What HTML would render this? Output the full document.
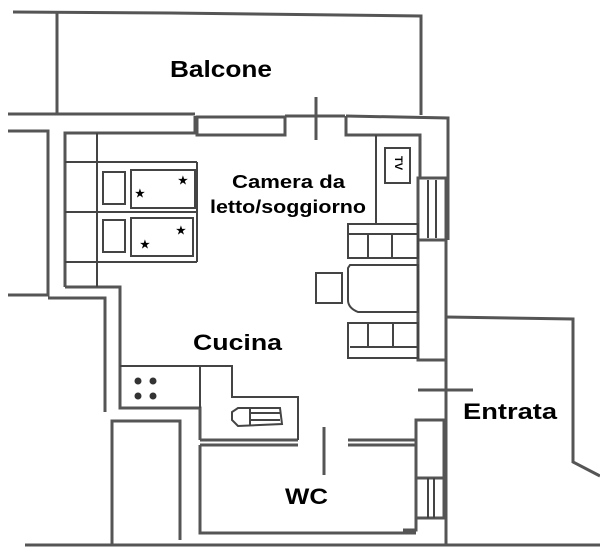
<!DOCTYPE html>
<html><head><meta charset="utf-8"><style>
html,body{margin:0;padding:0;background:#fff;width:600px;height:559px;overflow:hidden}
svg{display:block}
text{font-family:"Liberation Sans",Arial,sans-serif;font-weight:bold;fill:#000}
</style></head><body>
<svg width="600" height="559" viewBox="0 0 600 559" xmlns="http://www.w3.org/2000/svg">
<g fill="none" stroke="#555" stroke-width="3">
<polyline points="13,12 170,13 421,16 421,115"/>
<line x1="57" y1="13" x2="57" y2="113"/>
<line x1="8" y1="114" x2="195" y2="114"/>
<rect x="197" y="117" width="88" height="18"/>
<line x1="285" y1="116" x2="345" y2="116"/>
<line x1="316" y1="97" x2="316" y2="140"/>
<polyline points="346,116 448,118 448,240"/>
<polyline points="346,116 346,135 420,135 420,178 448,178"/>
<polyline points="8,131 48,131 48,295 8,295"/>
<polyline points="48,298 105,298 105,412"/>
<polyline points="65,287 65,133 195,133 195,116"/>
<polyline points="65,287 120,287 120,365"/>
<polyline points="120,365 120,408 200,408 200,440"/>
<polyline points="112,545 112,421 180,421 180,540"/>
<polyline points="446,178 446,545"/>
<rect x="418" y="178" width="28" height="62"/>
<rect x="418" y="240" width="28" height="120"/>
<rect x="416" y="420" width="28" height="58"/>
<rect x="416" y="478" width="28" height="40"/>
<polyline points="416,518 416,530 403,530"/>
<polyline points="446,317 573,319 573,462 600,476"/>
<line x1="418" y1="390" x2="473" y2="390"/>
<line x1="200" y1="440" x2="298" y2="440"/>
<line x1="200" y1="445" x2="298" y2="445"/>
<line x1="348" y1="440" x2="416" y2="440"/>
<line x1="348" y1="445" x2="416" y2="445"/>
<polyline points="200,445 200,533 416,533"/>
<line x1="324" y1="427" x2="324" y2="475"/>
<line x1="25" y1="545" x2="600" y2="545"/>
</g>
<g fill="none" stroke="#444" stroke-width="2">
<line x1="97" y1="133" x2="97" y2="287"/>
<line x1="65" y1="162" x2="197" y2="162"/>
<line x1="65" y1="212" x2="197" y2="212"/>
<line x1="65" y1="262" x2="197" y2="262"/>
<line x1="197" y1="162" x2="197" y2="262"/>
<rect x="103" y="172" width="22" height="32"/>
<rect x="131" y="170" width="64" height="38"/>
<rect x="103" y="220" width="22" height="32"/>
<rect x="131" y="218" width="62" height="38"/>
<polyline points="376,135 376,224"/>
<rect x="385" y="148" width="25" height="35"/>
<rect x="348" y="224" width="70" height="34"/>
<line x1="348" y1="234" x2="418" y2="234"/>
<line x1="368" y1="234" x2="368" y2="258"/>
<line x1="392" y1="234" x2="392" y2="258"/>
<path d="M350,265 L418,265 L418,312 L358,312 Q348,308 348,300 L348,268 Z"/>
<rect x="316" y="273" width="26" height="30"/>
<rect x="348" y="323" width="70" height="35"/>
<line x1="350" y1="347" x2="418" y2="347"/>
<line x1="368" y1="323" x2="368" y2="347"/>
<line x1="393" y1="323" x2="393" y2="347"/>
<polyline points="120,366 232,366 232,397 298,397 298,440"/>
<line x1="200" y1="366" x2="200" y2="408"/>
<path d="M238,408 L280,408 L282,424 L238,426 L232,420 L232,412 Z"/>
<line x1="250" y1="413" x2="280" y2="413"/>
<line x1="250" y1="420" x2="280" y2="420"/>
<line x1="250" y1="408" x2="250" y2="426"/>
<line x1="428" y1="478" x2="428" y2="518"/>
<line x1="434" y1="478" x2="434" y2="518"/>
<line x1="428" y1="180" x2="428" y2="238"/>
<line x1="436" y1="180" x2="436" y2="238"/>
</g>
<g fill="#333">
<circle cx="138" cy="381" r="3.5"/><circle cx="153" cy="381" r="3.5"/>
<circle cx="138" cy="396" r="3.5"/><circle cx="153" cy="396" r="3.5"/>
</g>
<g font-size="11" fill="#333"><text x="135" y="197">★</text><text x="178" y="184">★</text><text x="140" y="248">★</text><text x="176" y="234">★</text></g>
<text x="395" y="167" font-size="11" font-weight="normal" transform="rotate(90 397 165)" text-anchor="middle">TV</text>
<text x="170" y="77" font-size="23" textLength="102" lengthAdjust="spacingAndGlyphs">Balcone</text>
<text x="232" y="188" font-size="18" textLength="113" lengthAdjust="spacingAndGlyphs">Camera da</text>
<text x="210" y="213" font-size="18" textLength="156" lengthAdjust="spacingAndGlyphs">letto/soggiorno</text>
<text x="193" y="350" font-size="22" textLength="89" lengthAdjust="spacingAndGlyphs">Cucina</text>
<text x="463" y="419" font-size="22" textLength="94" lengthAdjust="spacingAndGlyphs">Entrata</text>
<text x="285" y="504" font-size="22" textLength="43" lengthAdjust="spacingAndGlyphs">WC</text>
</svg>
</body></html>
